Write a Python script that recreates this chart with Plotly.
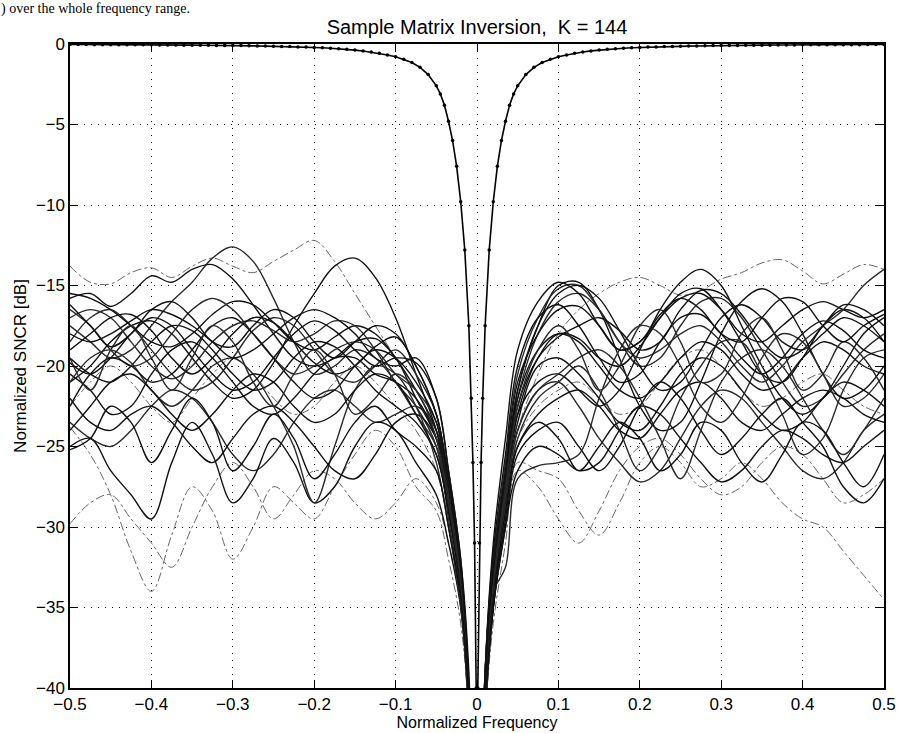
import plotly.graph_objects as go

# ---------------- data ----------------
freq = [-0.5, -0.475, -0.45, -0.425, -0.4, -0.375, -0.35, -0.325, -0.3, -0.275,
        -0.25, -0.225, -0.2, -0.175, -0.15, -0.125, -0.1, -0.075, -0.05,
        -0.035, -0.02, -0.01, 0.0, 0.01, 0.02, 0.035,
        0.05, 0.075, 0.1, 0.125, 0.15, 0.175, 0.2, 0.225, 0.25, 0.275,
        0.3, 0.325, 0.35, 0.375, 0.4, 0.425, 0.45, 0.475, 0.5]

sncr_01 = [-17.5, -18.5, -19.5, -19, -17.5, -16, -14.8, -13.3, -12.6, -13.5, -15.8, -18.5, -20.5, -20, -19, -19.5, -21, -23, -25,
           -29, -34, -41, -60, -40, -33, -27,
           -22, -18, -16, -15.5, -16.5, -18.5, -20, -19.5, -17.5, -16, -15.8, -17, -19, -21, -22.5, -22, -20.5, -19, -18]
sncr_02 = [-21, -20, -18.5, -17.5, -17.2, -18, -19.5, -21, -22, -21.5, -19.8, -17.5, -15.5, -13.8, -13.3, -14.5, -17, -20.5, -24,
           -28, -33, -40, -60, -39, -32, -26.5,
           -21.5, -17.5, -15, -14.8, -16.5, -19.5, -22.5, -24, -23.5, -21, -18, -16, -15.2, -16, -18, -20.5, -22, -21.5, -20]
sncr_03 = [-15.8, -15.5, -16.3, -15.5, -14.4, -14.8, -14.0, -13.7, -14.6, -16.2, -18, -19.5, -20, -19.5, -18.5, -18.3, -19.5, -22, -24.5,
           -28.5, -34, -41, -60, -41, -34, -28,
           -23, -19.5, -18, -18.3, -19.5, -20, -18.8, -17, -15.5, -15.2, -16.5, -18.5, -20.5, -21, -19.5, -17.5, -16.5, -17, -18.5]
sncr_04 = [-23.5, -24.5, -25, -24, -22.5, -21.5, -22, -23.5, -25.5, -26.5, -25.5, -23.5, -22, -21.5, -22.5, -23.5, -23, -22.5, -24,
           -28, -33, -40, -60, -41, -34, -28.5,
           -24, -21.5, -21, -22.5, -24.5, -26, -27.2, -26.5, -24.5, -22.5, -21.5, -22, -23.5, -25, -26.5, -27, -26, -24, -23]
sncr_05 = [-25, -24.5, -26.5, -28, -29.5, -26, -23.5, -25.5, -28.5, -27, -24.5, -26, -28.5, -27.5, -25, -23.5, -24, -26, -28,
           -31, -35, -42, -60, -42, -35, -30,
           -25.5, -24, -23.5, -25, -26.5, -25, -22.5, -21, -22, -24, -25.5, -24.5, -23, -22, -23.5, -25, -27.5, -28.5, -27]
sncr_06 = [-19.5, -20.5, -21, -20, -18.5, -17.5, -17.8, -19, -20.5, -21.5, -21, -19.5, -18.5, -18.8, -20, -21.5, -22.5, -23.5, -25.5,
           -29, -34, -41, -60, -40, -33.5, -27.5,
           -23, -21, -20.5, -21.5, -22.5, -21.5, -19, -16.5, -14.8, -14, -15, -17.5, -20, -22, -23, -22, -20, -18, -17]
sncr_07 = [-18.5, -17, -16.5, -17.5, -19, -20.5, -21.5, -21, -19.5, -17.8, -17, -17.5, -19, -20.5, -21, -20, -19, -20.5, -23,
           -27.5, -33, -40, -60, -39, -32, -26,
           -20.5, -17, -15.2, -15, -16.5, -18.5, -19.5, -19, -18, -17.5, -18.5, -20, -21, -20, -18.5, -17.5, -16.5, -15, -14]
sncr_08 = [-20.5, -21.5, -23, -22.5, -20.5, -19, -18.5, -19.5, -21, -22.5, -23, -22, -20.5, -19.5, -19.5, -20.5, -21, -22, -24.5,
           -28.5, -33.5, -41, -60, -41, -34, -28,
           -23.5, -20, -19.5, -20.5, -22, -23.5, -24, -22.5, -20.5, -19.5, -20, -21.5, -23, -24, -23.5, -22, -21, -21.5, -22.5]
sncr_09 = [-15.5, -15.8, -16.5, -17.5, -18.5, -18.8, -18, -16.8, -16, -16.2, -17.3, -18.5, -19, -18.2, -17.5, -18, -19.5, -21.5, -24,
           -28, -33, -40, -60, -40, -33, -27,
           -21.5, -17.5, -15.5, -15, -15.8, -17.8, -20, -21.5, -21, -19, -17, -16.2, -17, -18.5, -19, -18, -17, -17.5, -18.5]
sncr_10 = [-17, -16.5, -17, -18.5, -20, -20.8, -20, -18.5, -17.5, -17.2, -17.8, -18.5, -18, -17.2, -17.5, -19, -21, -22.5, -25,
           -29.5, -34.5, -42, -60, -42, -35, -29,
           -24.5, -22, -21, -20, -21.5, -24, -26.5, -25, -22, -20, -18.5, -18.5, -20.5, -23, -25.5, -24.5, -21.5, -19.5, -19]
sncr_11 = [-19, -18, -17, -16.8, -17.8, -19.5, -20.5, -19.5, -18, -17, -17.3, -18.5, -19.8, -20.5, -20, -18.8, -18.2, -20, -23,
           -27, -32.5, -40, -60, -40, -33, -27.5,
           -22.5, -19.5, -18.2, -17.5, -17, -17.8, -19, -18.5, -16.5, -15.3, -15.5, -16.8, -18.5, -19.5, -19, -17.5, -16.2, -16.5, -17.5]
sncr_12 = [-22, -23.5, -24, -23, -22.5, -23.5, -25, -26, -24.5, -23, -22.5, -23.5, -25, -26.5, -27, -25.5, -23.5, -23, -24.5,
           -28, -33.5, -41, -60, -41, -35, -30,
           -26.5, -25, -25.5, -26.5, -26, -24, -22.5, -23, -24.5, -26, -27.2, -26.5, -25, -24, -24.5, -25.5, -26, -25, -24]
sncr_13 = [-21, -19.5, -19, -19.8, -21.5, -22.5, -21.5, -20, -19.5, -20.5, -22.5, -25, -28.5, -25, -21.5, -20, -20.5, -22.5, -26,
           -30, -35, -41, -60, -41, -34, -28,
           -24, -21.5, -20.5, -19.5, -19, -20, -22, -24.5, -27, -24, -21, -19.5, -19, -20, -22, -24, -25.5, -24, -22]
sncr_14 = [-18, -18.5, -18, -17.2, -16.5, -16.8, -17.5, -18.5, -19.5, -19, -18, -17, -16.5, -17, -18, -19.5, -20, -19.5, -22,
           -26.5, -32, -40, -60, -39, -31, -24.5,
           -19, -16, -14.8, -15.5, -17.5, -19, -18.5, -17, -15.8, -15.5, -16.5, -18, -18.5, -17.5, -16.5, -16, -16.5, -17, -16.5]
sncr_15 = [-24, -22.5, -21, -20.5, -21.5, -23, -24, -23, -21.5, -20.5, -21, -22.5, -23.5, -23, -21.5, -20.5, -21, -23, -25.5,
           -29, -34, -41, -60, -41, -34.5, -29,
           -25, -23, -22, -21.5, -22.5, -24, -24.5, -23, -21.5, -21, -22, -23.5, -24, -23, -22, -21.5, -22, -23, -23.5]
sncr_16 = [-16.5, -17.5, -19, -20, -19.5, -18, -16.5, -15.8, -16.5, -18, -19.5, -20.5, -20, -19, -18.5, -19, -20.5, -21.5, -23.5,
           -28, -33, -40, -60, -39, -34, -32.5,
           -27, -26.2, -26, -25.5, -22, -19, -17.5, -18, -20, -22.5, -23.5, -22, -19.5, -18, -18.5, -20.5, -22.5, -22, -20.5]
sncr_17 = [-19.8, -20.5, -19.5, -18, -17, -17.5, -19, -20.5, -21.5, -21, -19.5, -18, -17.2, -17.8, -19, -20, -19.5, -19.8, -22,
           -26.5, -32, -39, -60, -39, -31.5, -25.5,
           -20, -17, -16.2, -17.5, -19.5, -21, -20.5, -18.5, -17, -16.8, -18, -19.5, -20.5, -19.5, -18, -17.2, -17.8, -19, -19.5]
sncr_18 = [-22.5, -20.5, -19.5, -20, -21, -20.5, -19, -17.5, -17, -18, -19.5, -21, -22, -21.5, -20, -19, -19.5, -21, -23.5,
           -27.5, -32.5, -40, -60, -40, -33, -27,
           -22, -19, -18, -18.5, -20, -21.5, -22, -21, -19.5, -18.5, -19, -20.5, -21.5, -21, -19.5, -18.5, -19, -20, -20.5]
sncr_19 = [-19.5, -21.5, -19, -17.5, -19.5, -21.5, -19.5, -17.5, -18.5, -21, -22.5, -20.5, -19, -20.5, -23, -22, -20.5, -21.5, -24.5,
           -28.5, -33.5, -41, -60, -40.5, -33.5, -27.5,
           -22.5, -19, -17.5, -19, -21.5, -20, -17.5, -16.5, -18.5, -21, -20.5, -18, -17, -19, -21.5, -20.5, -18.5, -19.5, -21.5]
sncr_20 = [-25.2, -24.5, -22.5, -23.5, -26, -24, -22, -23.5, -26.5, -25, -23, -24.5, -27, -25.5, -23.5, -22.5, -24, -25, -26.5,
           -30, -34.5, -41, -60, -41, -35, -29.5,
           -25, -23.5, -24.5, -26.5, -25, -23.5, -24.5, -26.5, -25.5, -23.5, -24, -26, -27.2, -25.5, -23.5, -24, -26, -27.5, -25.5]
sncr_21 = [-16.2, -17.5, -18.8, -18, -16.5, -16, -17, -18.5, -18.8, -17.5, -16.5, -17, -18.5, -19.5, -18.5, -17.5, -18, -20, -23,
           -27, -32.5, -40, -60, -40, -32.5, -26.5,
           -21, -18, -16.5, -16.3, -17.5, -19, -18.5, -16.8, -15.8, -16.5, -18, -18.5, -17, -15.8, -16, -17.5, -18.5, -17.5, -16.8]

# dash-dot (lighter) runs
sncr_d1 = [-13.8, -14.8, -14.9, -14.2, -13.9, -14.5, -13.8, -13.3, -13.8, -14.2, -13.5, -12.8, -12.2, -13.5, -15.5, -17.5, -19.5, -21.5, -24,
           -28, -33, -40, -60, -40, -33, -28,
           -24, -20.5, -18, -16.5, -15.5, -14.8, -14.5, -15, -15.6, -15.3, -14.6, -14.2, -13.6, -13.4, -14.1, -14.9, -14.3, -13.7, -14]
sncr_d2 = [-23.8, -25.5, -28, -31.5, -34, -30.5, -27.5, -29, -32, -30, -27.5, -28.5, -29.5, -27.5, -25.5, -24, -25, -27.5, -29,
           -32, -36, -42, -60, -42, -36, -31,
           -26, -26.5, -27, -29, -30.5, -28.5, -26, -25, -26, -27.5, -27, -26, -27, -28.5, -29.5, -30, -31.5, -33, -34.5]
sncr_d3 = [-29.8, -28.5, -28, -29.5, -31, -32.5, -30, -27.5, -26, -27.5, -29.5, -28, -26.5, -27, -28.5, -29.5, -28.5, -27, -28.5,
           -31, -35, -41, -60, -41, -35, -30,
           -26.5, -27.5, -29.5, -31, -29, -26.5, -25, -24.5, -25.5, -27, -28, -27.5, -26, -25, -25.5, -27, -28.5, -28, -27]
sncr_d4 = [-22.5, -21, -20, -21, -22.5, -23.5, -22, -20.5, -19.5, -20.5, -22, -23, -22.5, -21, -20, -21, -22.5, -24, -26.5,
           -30, -34.5, -41, -60, -41, -34, -28.5,
           -24.5, -22.5, -21.5, -21, -22, -23, -22.5, -21, -19.5, -19, -20, -21.5, -22.5, -22, -21, -20.5, -21.5, -22.5, -23]

# optimum (known covariance) curve
opt_freq = [-0.5, -0.49, -0.48, -0.47, -0.46, -0.45, -0.44, -0.43, -0.42, -0.41, -0.4, -0.39, -0.38, -0.37, -0.36,
            -0.35, -0.34, -0.33, -0.32, -0.31, -0.3, -0.29, -0.28, -0.27, -0.26, -0.25, -0.24, -0.23, -0.22, -0.21,
            -0.2, -0.19, -0.18, -0.17, -0.16, -0.15, -0.14, -0.13, -0.12, -0.11, -0.1, -0.09, -0.08, -0.07, -0.06,
            -0.05, -0.045, -0.04, -0.035, -0.03, -0.025, -0.02, -0.015, -0.01, -0.007, -0.005, -0.003, -0.001,
            0.001, 0.003, 0.005, 0.007, 0.01, 0.015, 0.02, 0.025, 0.03, 0.035, 0.04, 0.045, 0.05,
            0.06, 0.07, 0.08, 0.09, 0.1, 0.11, 0.12, 0.13, 0.14, 0.15, 0.16, 0.17, 0.18, 0.19, 0.2,
            0.21, 0.22, 0.23, 0.24, 0.25, 0.26, 0.27, 0.28, 0.29, 0.3, 0.31, 0.32, 0.33, 0.34, 0.35,
            0.36, 0.37, 0.38, 0.39, 0.4, 0.41, 0.42, 0.43, 0.44, 0.45, 0.46, 0.47, 0.48, 0.49, 0.5]
opt_sncr = [-0.03, -0.03, -0.03, -0.04, -0.04, -0.04, -0.04, -0.05, -0.05, -0.05, -0.05, -0.06, -0.06, -0.06, -0.07,
            -0.07, -0.08, -0.08, -0.09, -0.09, -0.1, -0.1, -0.11, -0.12, -0.13, -0.14, -0.15, -0.16, -0.18, -0.19,
            -0.21, -0.23, -0.26, -0.29, -0.33, -0.38, -0.43, -0.5, -0.58, -0.68, -0.79, -0.95, -1.15, -1.45, -1.9,
            -2.6, -3.1, -3.8, -4.8, -6.0, -7.6, -9.8, -12.8, -17.5, -22, -26, -31, -40,
            -40, -31, -26, -22, -17.5, -12.8, -9.8, -7.6, -6.0, -4.8, -3.8, -3.1, -2.6,
            -1.9, -1.45, -1.15, -0.95, -0.79, -0.68, -0.58, -0.5, -0.43, -0.38, -0.33, -0.29, -0.26, -0.23, -0.21,
            -0.19, -0.18, -0.16, -0.15, -0.14, -0.13, -0.12, -0.11, -0.1, -0.1, -0.09, -0.09, -0.08, -0.08, -0.07,
            -0.07, -0.06, -0.06, -0.06, -0.05, -0.05, -0.05, -0.05, -0.04, -0.04, -0.04, -0.04, -0.03, -0.03, -0.03]

x_tick_vals = [-0.5, -0.4, -0.3, -0.2, -0.1, 0, 0.1, 0.2, 0.3, 0.4, 0.5]
x_tick_text = ["\u22120.5", "\u22120.4", "\u22120.3", "\u22120.2", "\u22120.1", "0", "0.1", "0.2", "0.3", "0.4", "0.5"]
y_tick_vals = [0, -5, -10, -15, -20, -25, -30, -35, -40]
y_tick_text = ["0", "\u22125", "\u221210", "\u221215", "\u221220", "\u221225", "\u221230", "\u221235", "\u221240"]

solid_runs = [sncr_01, sncr_02, sncr_03, sncr_04, sncr_05, sncr_06, sncr_07, sncr_08, sncr_09,
              sncr_10, sncr_11, sncr_12, sncr_13, sncr_14, sncr_15, sncr_16, sncr_17, sncr_18,
              sncr_19, sncr_20, sncr_21]
dashed_runs = [sncr_d1, sncr_d2, sncr_d3, sncr_d4]

# ---------------- figure ----------------
fig = go.Figure()

for run in dashed_runs:
    fig.add_trace(go.Scatter(x=freq, y=run, mode="lines",
                             line=dict(color="#666666", width=1, dash="dashdot", shape="spline", smoothing=1.0),
                             hoverinfo="skip"))

for i, run in enumerate(solid_runs):
    fig.add_trace(go.Scatter(x=freq, y=run, mode="lines",
                             line=dict(color="#111111" if i % 3 else "#2a2a2a", width=1.4,
                                       shape="spline", smoothing=1.0),
                             hoverinfo="skip"))

fig.add_trace(go.Scatter(x=opt_freq, y=opt_sncr, mode="lines+markers",
                         line=dict(color="black", width=1.6),
                         marker=dict(color="black", size=3.5),
                         hoverinfo="skip"))

font_family = "Liberation Sans, Arial, Helvetica, sans-serif"

axis_common = dict(
    showline=True, linecolor="black", linewidth=1.5, mirror="ticks",
    ticks="inside", ticklen=8, tickwidth=1.2, tickcolor="black",
    showgrid=True, gridcolor="black", gridwidth=1.2, griddash="1px,6px",
    zeroline=False, automargin=False,
    tickfont=dict(family=font_family, size=17, color="black"),
)

fig.update_xaxes(range=[-0.5, 0.5], tickmode="array", tickvals=x_tick_vals, ticktext=x_tick_text,
                 title=dict(text="Normalized Frequency", font=dict(family=font_family, size=16, color="black"),
                            standoff=2),
                 **axis_common)
fig.update_yaxes(range=[-40, 0], tickmode="array", tickvals=y_tick_vals, ticktext=y_tick_text,
                 title=dict(text="Normalized SNCR [dB]", font=dict(family=font_family, size=17, color="black"),
                            standoff=5),
                 **axis_common)

fig.update_layout(
    width=898, height=733,
    margin=dict(l=70, r=14, t=44, b=45),
    paper_bgcolor="white", plot_bgcolor="white",
    showlegend=False,
    font=dict(family=font_family, size=17, color="black"),
    title=dict(text="Sample Matrix Inversion,\u00a0 K = 144", x=0.5, xref="paper", xanchor="center",
               y=1 - 27 / 733, yref="container", yanchor="middle",
               font=dict(family=font_family, size=20, color="black")),
    annotations=[dict(text=") over the whole frequency range.", xref="paper", yref="paper",
                      x=0, y=1, xanchor="left", yanchor="top", xshift=-70, yshift=44,
                      showarrow=False, borderpad=0,
                      font=dict(family="Liberation Serif, Times New Roman, serif", size=14, color="black"))],
)

fig.write_html("out.html")
